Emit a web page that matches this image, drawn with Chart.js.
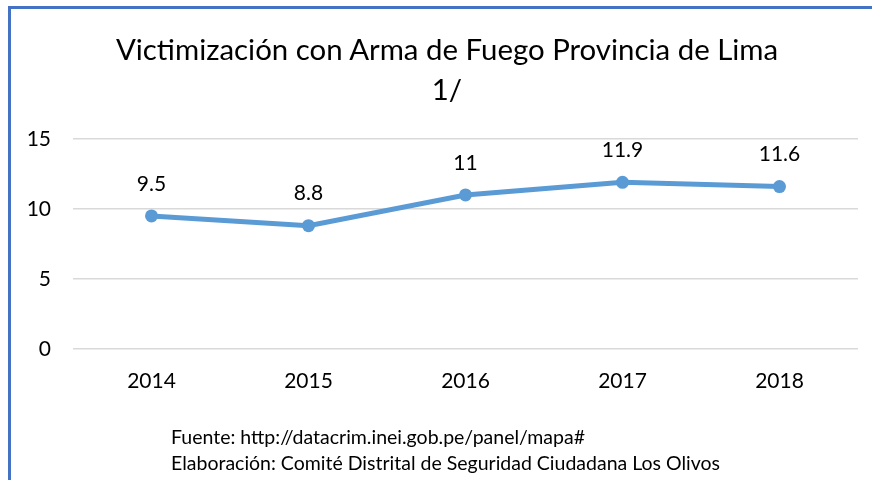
<!DOCTYPE html>
<html>
<head>
<meta charset="utf-8">
<script src="https://cdn.jsdelivr.net/npm/chart.js@4/dist/chart.umd.min.js"></script>
<style>
  body { margin: 0; background: #fff; }
  #wrap { position: relative; width: 872px; height: 480px; overflow: hidden; }
  #frame {
    position: absolute; left: 8px; top: 6px; width: 900px; height: 500px;
    border-top: 3px solid #4472C4; border-left: 3px solid #4472C4;
  }
  #myChart { position: absolute; left: 0; top: 0; }
  #title {
    position: absolute; left: 0; top: 29px; width: 894px; text-align: center;
    font-family: Lato, sans-serif; font-size: 29.4px; line-height: 40px; color: #000;
  }
  #footer {
    position: absolute; left: 171px; top: 424px;
    font-family: Lato, sans-serif; font-size: 19.5px; line-height: 26px; color: #000;
  }
</style>
</head>
<body>
<div id="wrap">
  <div id="frame"></div>
  <canvas id="myChart" width="872" height="480"></canvas>
  <div id="title"></div>
  <div id="footer">
    Fuente: http://datacrim.inei.gob.pe/panel/mapa#<br>
    Elaboración: Comité Distrital de Seguridad Ciudadana Los Olivos
  </div>
</div>
<script>
//Chart data.
let years = ["2014", "2015", "2016", "2017", "2018"];
let victimizacion = [9.5, 8.8, 11, 11.9, 11.6];
let yTicks = [0, 5, 10, 15];

let titleLines = ["Victimización con Arma de Fuego Provincia de Lima", "1/"];

//Title sits off-centre in the reference, so it is placed as page text.
document.getElementById("title").innerHTML = titleLines.join("<br>");

//Draw the value above each point.
const valueLabels = {
  id: "valueLabels",
  afterDatasetsDraw(chart) {
    let ctx = chart.ctx;
    let meta = chart.getDatasetMeta(0);
    ctx.save();
    ctx.font = "21px Lato";
    ctx.fillStyle = "#000";
    ctx.textAlign = "center";
    ctx.textBaseline = "middle";
    meta.data.forEach((pt, i) => {
      ctx.fillText(String(victimizacion[i]), pt.x, pt.y - 32);
    });
    ctx.restore();
  }
};

let ctx = document.getElementById("myChart").getContext("2d");

let myChart = new Chart(ctx, {
  type: "line",
  data: {
    labels: years,
    datasets: [{
      data: victimizacion,
      borderColor: "#5B9BD5",
      backgroundColor: "#5B9BD5",
      borderWidth: 5,
      pointRadius: 6.5,
      pointBorderWidth: 0,
      pointBackgroundColor: "#5B9BD5",
      tension: 0,
      fill: false
    }]
  },
  options: {
    responsive: false,
    animation: false,
    layout: { padding: { top: 139, left: 0, right: 14, bottom: 66 } },
    plugins: {
      legend: { display: false },
      tooltip: { enabled: false },
      title: { display: false }
    },
    scales: {
      x: {
        offset: true,
        grid: { display: false, drawTicks: false },
        border: { display: false },
        ticks: { color: "#000", font: { family: "Lato", size: 21 }, padding: 20 }
      },
      y: {
        min: 0,
        max: 15,
        afterBuildTicks: axis => { axis.ticks = yTicks.map(v => ({ value: v })); },
        afterFit: axis => { axis.width = 73; },
        grid: { color: "#D9D9D9", lineWidth: 1.5, drawTicks: false },
        border: { display: false },
        ticks: { color: "#000", font: { family: "Lato", size: 21 }, padding: 22 }
      }
    }
  },
  plugins: [valueLabels]
});
</script>
</body>
</html>
